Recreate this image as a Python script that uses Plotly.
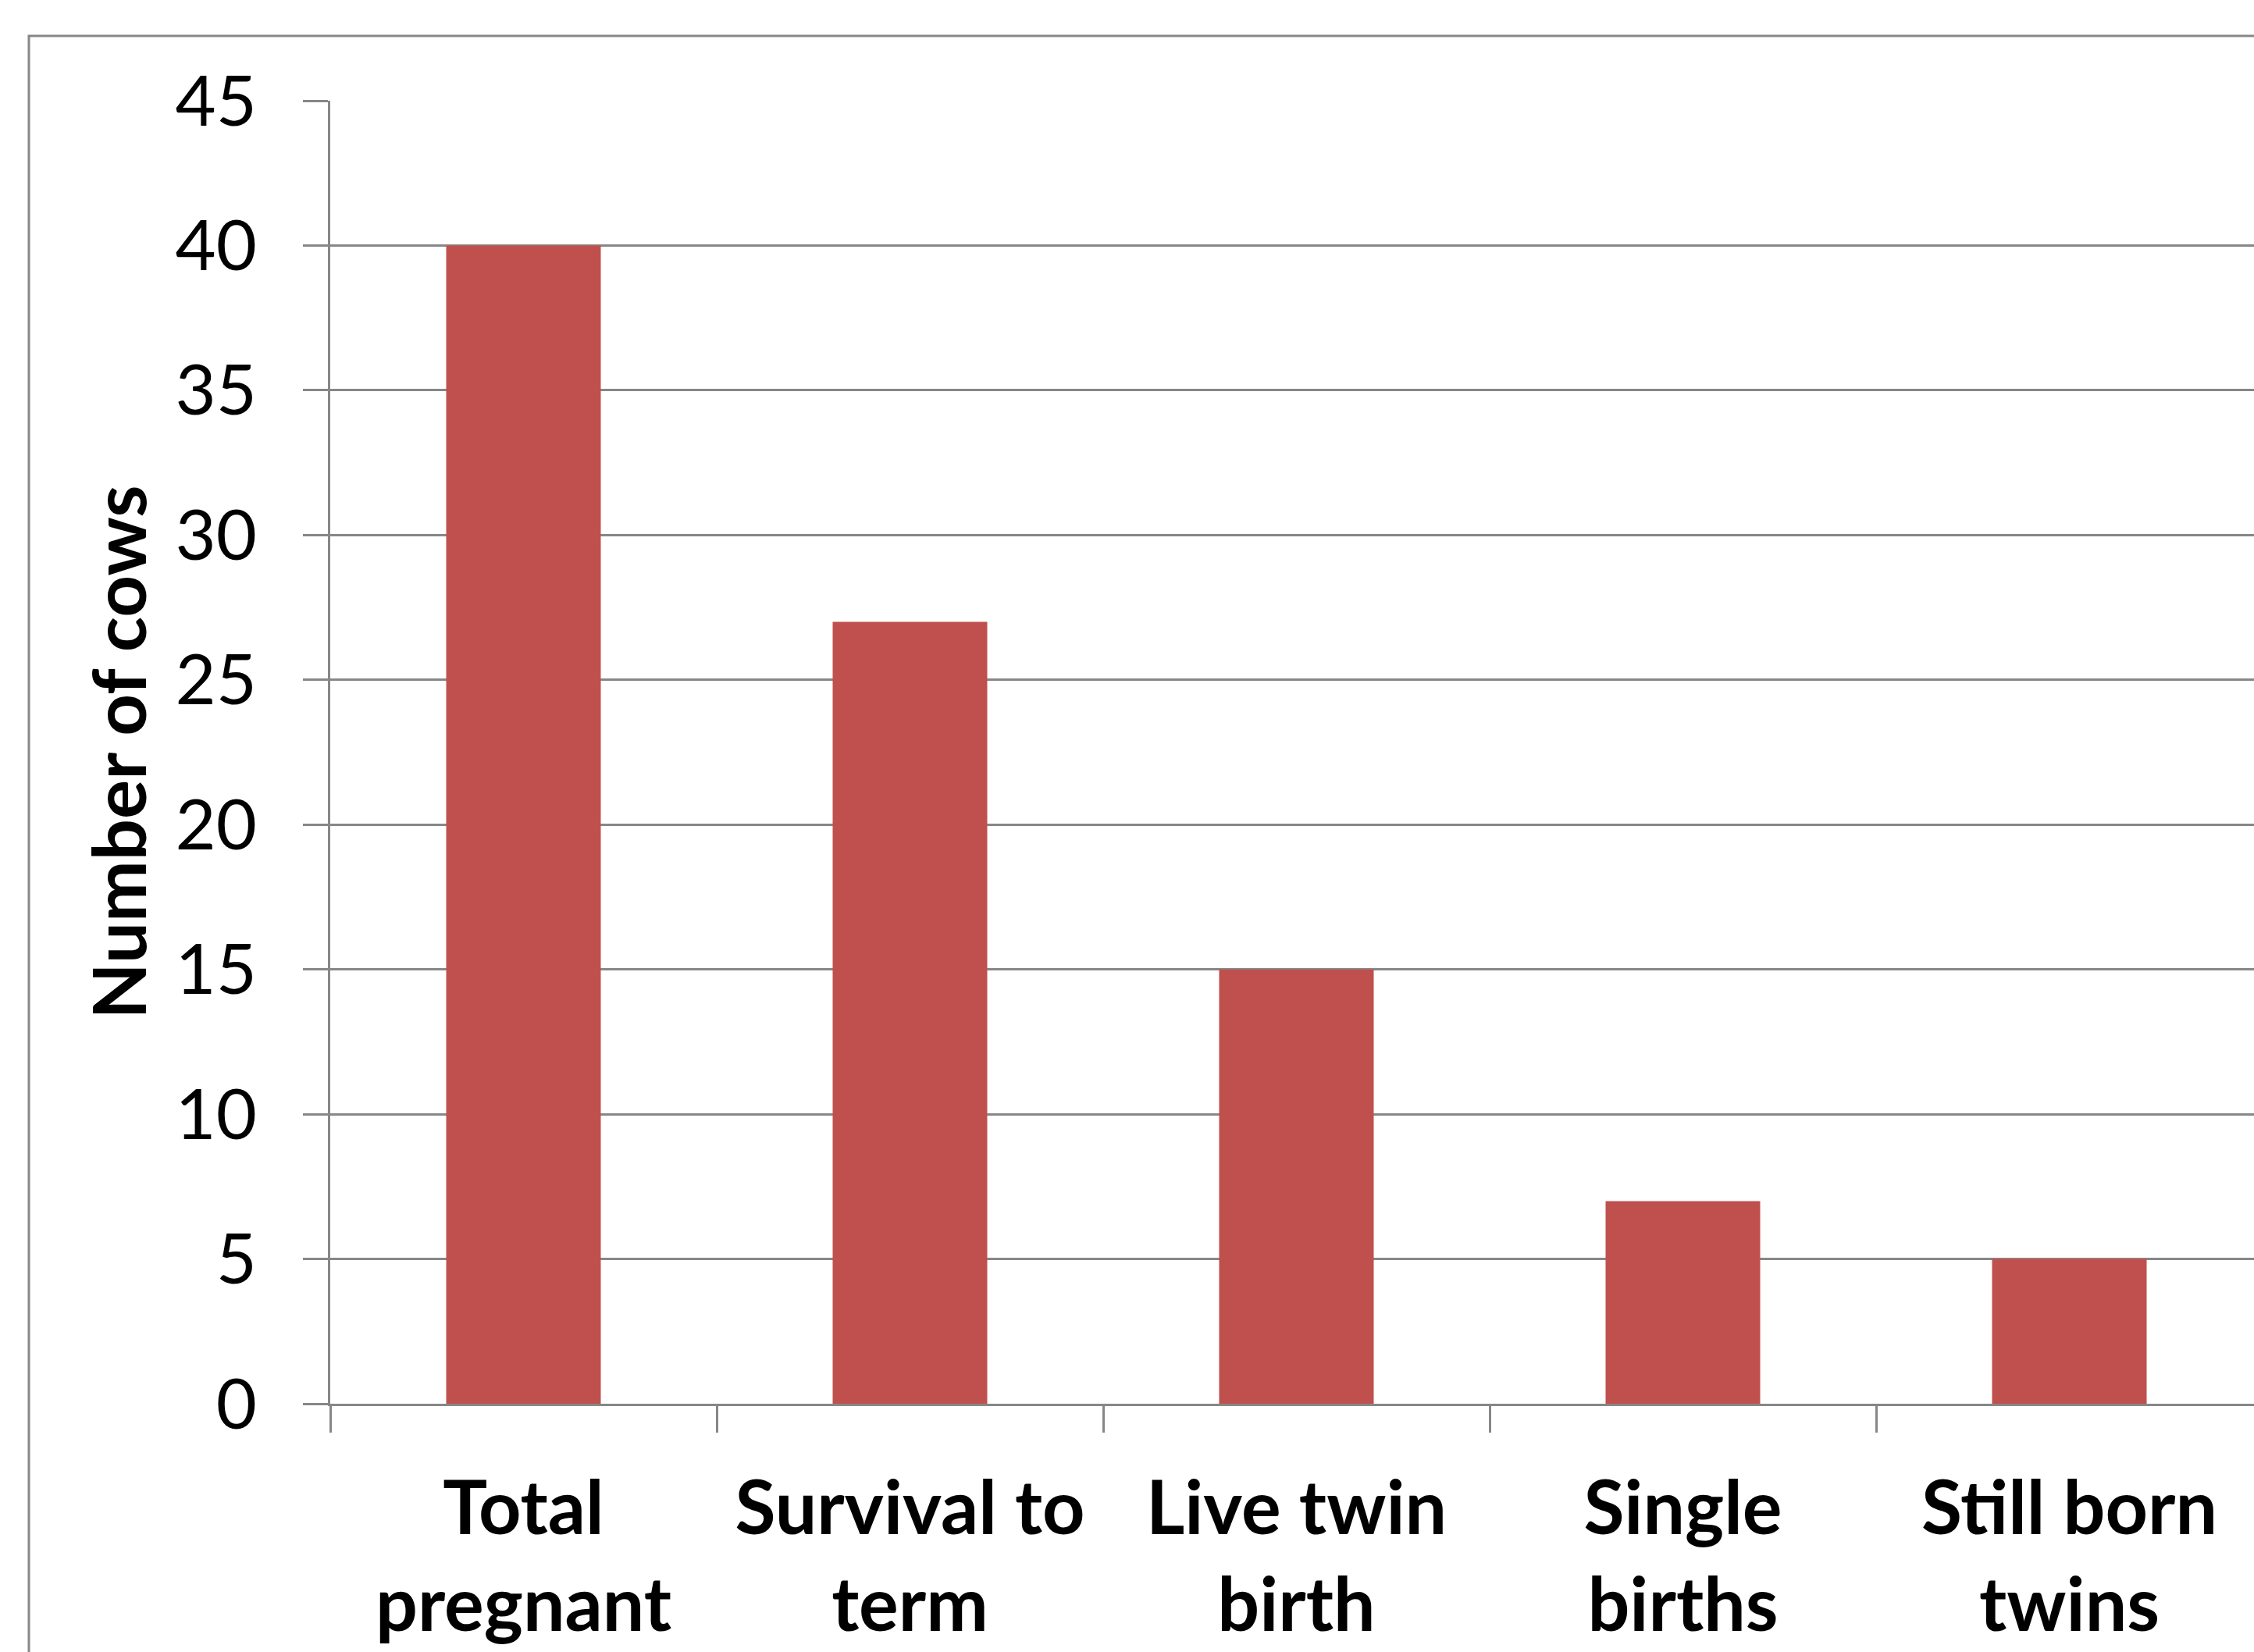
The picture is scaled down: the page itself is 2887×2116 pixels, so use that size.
import plotly.graph_objects as go

categories = ["Total<br>pregnant", "Survival to<br>term", "Live twin<br>birth", "Single<br>births", "Still born<br>twins"]
values = [40, 27, 15, 7, 5]
y_ticks = [0, 5, 10, 15, 20, 25, 30, 35, 40, 45]
y_title = "Number of cows"

W, H = 2887, 2116
ML, MT, MB, MR = 423, 129, 318, 0
grey = "#878787"
bar_color = "#C0504D"

fig = go.Figure()
fig.add_trace(go.Bar(x=categories, y=values, marker=dict(color=bar_color, line=dict(width=0)), width=0.4))

pw = W - ML - MR
ph = H - MT - MB

fig.update_layout(
    width=W, height=H,
    margin=dict(l=ML, r=MR, t=MT, b=MB, autoexpand=False),
    paper_bgcolor="white", plot_bgcolor="white",
    showlegend=False,
    font=dict(family="Lato", color="black"),
    xaxis=dict(
        range=[-0.5, -0.5 + pw / 495.0],
        tickson="boundaries", ticks="outside", ticklen=34, tickwidth=3, tickcolor=grey,
        showline=True, linecolor=grey, linewidth=3,
        showgrid=False, zeroline=False,
        tickfont=dict(family="Lato", size=95, color="black", weight="bold"),
        ticklabelstandoff=50,
        automargin=False,
    ),
    yaxis=dict(
        range=[0, 45], tickvals=y_ticks,
        ticks="outside", ticklen=32, tickwidth=3, tickcolor=grey,
        showline=True, linecolor=grey, linewidth=3,
        showgrid=True, gridcolor=grey, gridwidth=3,
        zeroline=False,
        tickfont=dict(family="Lato", size=90, color="black"),
        ticklabelstandoff=41,
        automargin=False,
    ),
    shapes=[dict(
        type="rect", xref="paper", yref="paper",
        x0=(37 - ML) / pw, x1=1.05,
        y0=-(MB + 20) / ph, y1=1 + (MT - 46) / ph,
        line=dict(color=grey, width=3), fillcolor="rgba(0,0,0,0)", layer="below",
    )],
    annotations=[dict(
        text=y_title, textangle=-90, xref="paper", yref="paper",
        x=(150 - ML) / pw, y=0.5, xanchor="center", yanchor="middle",
        showarrow=False, font=dict(family="Lato", size=94, color="black", weight="bold"),
    )],
)

fig.write_html("out.html", config={"displayModeBar": False},
               post_script="document.body.style.margin='0';")
